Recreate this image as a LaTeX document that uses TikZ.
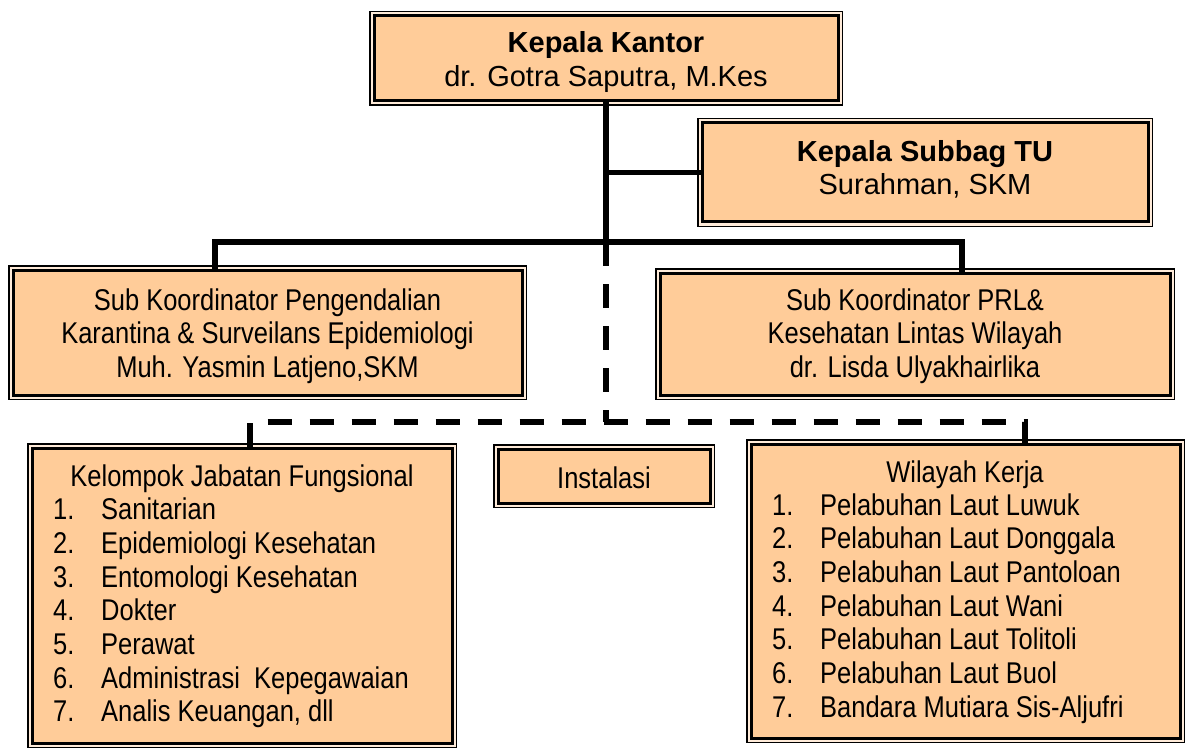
\documentclass[tikz,border=0pt]{standalone}
\usepackage{fontspec}
\setmainfont{Liberation Sans}
\newfontfamily\narrowfont[FakeStretch=0.85]{Liberation Sans}
\definecolor{boxfill}{HTML}{FFCC99}
\definecolor{band}{HTML}{FFEBD9}
\begin{document}
\begin{tikzpicture}[x=1pt,y=-1pt,
  box/.style={rectangle, draw=black, line width=3pt, fill=boxfill, inner sep=0pt,
    preaction={draw=black, line width=10pt},
    preaction={draw=band, line width=7pt}},
  conn/.style={line width=5.5pt},
  dconn/.style={line width=5.5pt, dash pattern=on 24pt off 18pt},
  bigtxt/.style={anchor=base, inner sep=0pt, font=\fontsize{29}{34}\selectfont},
  nartxt/.style={anchor=base, inner sep=0pt, font=\narrowfont\fontsize{30}{34}\selectfont},
  lsttxt/.style={anchor=base west, inner sep=0pt, font=\narrowfont\fontsize{30}{34}\selectfont}]
\useasboundingbox (0,0) rectangle (1187,749);

% boxes
\node[box, minimum width=464pt, minimum height=85pt] (kk) at (606,58.5) {};
\node[box, minimum width=446pt, minimum height=99pt] (tu) at (925,172.5) {};
\node[box, minimum width=509pt, minimum height=125pt] (lb) at (267.5,332.5) {};
\node[box, minimum width=510pt, minimum height=122pt] (rb) at (915,334) {};
\node[box, minimum width=420pt, minimum height=295pt] (kj) at (242,595.5) {};
\node[box, minimum width=212pt, minimum height=54pt] (ins) at (604,476) {};
\node[box, minimum width=429pt, minimum height=294pt] (wk) at (965.5,591) {};

% junctions
\coordinate (j1) at (606,242);
\coordinate (j2) at (606,422);
\coordinate (ldrop) at (215,242);
\coordinate (rdrop) at (962,242);
\coordinate (dl) at (250,422);
\coordinate (dr) at (1025,422);

% connectors
\draw[conn] (kk.south) -- (j1);
\draw[conn] (kk.south |- tu.west) -- (tu.west);
\draw[conn] (lb.north -| ldrop) |- (j1) -| (rb.north -| rdrop);
\draw[dconn] (j1) -- (j2);
\draw[dconn] (kj.north -| dl) |- (j2) -| (wk.north -| dr);

% texts
\node[bigtxt] (kkt1) at (606,53) {\bfseries Kepala Kantor};
\node[bigtxt] (kkt2) at (606,87) {dr. Gotra Saputra, M.Kes};
\node[bigtxt] (tut1) at (925,162) {\bfseries Kepala Subbag TU};
\node[bigtxt] (tut2) at (925,195) {Surahman, SKM};

\node[nartxt] (lbt1) at (267.5,310) {Sub Koordinator Pengendalian};
\node[nartxt] (lbt2) at (267.5,343.5) {Karantina \& Surveilans Epidemiologi};
\node[nartxt] (lbt3) at (267.5,377) {Muh. Yasmin Latjeno,SKM};

\node[nartxt] (rbt1) at (915,310) {Sub Koordinator PRL\&};
\node[nartxt] (rbt2) at (915,343.5) {Kesehatan Lintas Wilayah};
\node[nartxt] (rbt3) at (915,377) {dr. Lisda Ulyakhairlika};

\node[nartxt] (inst) at (604,488) {Instalasi};

\node[nartxt] (kjt) at (242,486) {Kelompok Jabatan Fungsional};
\foreach \t [count=\i] in {Sanitarian, Epidemiologi Kesehatan, Entomologi Kesehatan, Dokter, Perawat, Administrasi~ Kepegawaian, {Analis Keuangan, dll}}
  \node[lsttxt] (kj\i) at (53,{486+33.7*\i}) {\makebox[48pt][l]{\i.}\t};

\node[nartxt] (wkt) at (965,482) {Wilayah Kerja};
\foreach \t [count=\i] in {Pelabuhan Laut Luwuk, Pelabuhan Laut Donggala, Pelabuhan Laut Pantoloan, Pelabuhan Laut Wani, Pelabuhan Laut Tolitoli, Pelabuhan Laut Buol, Bandara Mutiara Sis-Aljufri}
  \node[lsttxt] (wk\i) at (772,{481.3+33.7*\i}) {\makebox[48pt][l]{\i.}\t};
\end{tikzpicture}
\end{document}
